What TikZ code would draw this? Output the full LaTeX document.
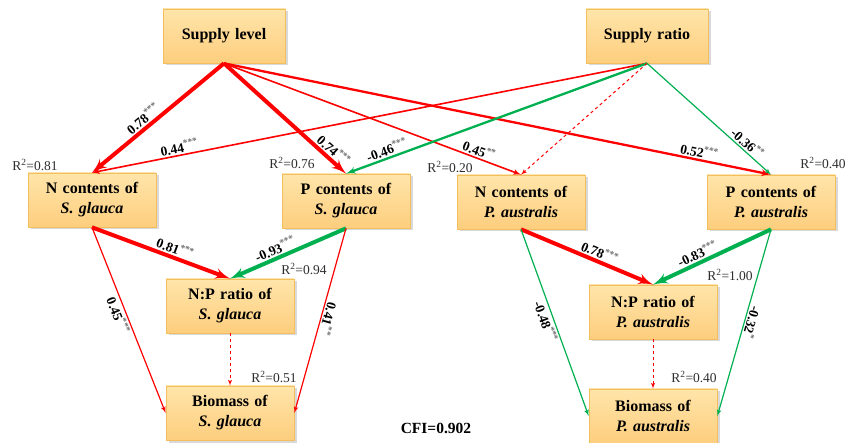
\documentclass[tikz,border=0pt]{standalone}
\usepackage{fontspec}
\setmainfont{Liberation Serif}
\usepackage{xcolor}
\definecolor{boxtop}{HTML}{FFE5AA}
\definecolor{boxbot}{HTML}{FDCE7E}
\definecolor{boxline}{HTML}{F2BE5E}
\definecolor{effpos}{HTML}{FF0000}
\definecolor{effneg}{HTML}{00B050}
\definecolor{starcol}{HTML}{6E6E6E}
\definecolor{rtext}{HTML}{2E2E2E}
\usepackage{tikz}
\usetikzlibrary{shapes,arrows,arrows.meta}
\usetikzlibrary{shadows}
\usetikzlibrary{positioning}
\tikzstyle{block} = [rectangle, draw=boxline, line width=0.7pt, top color=boxtop,
    bottom color=boxbot, text width=122pt, align=center, minimum width=128pt,
    minimum height=54pt, inner sep=0pt, font=\fontsize{16}{20}\selectfont\bfseries,
    drop shadow={shadow xshift=2.5pt, shadow yshift=-2.5pt, opacity=.3}]
\tikzstyle{line} = [draw, -latex']
\tikzstyle{coef} = [font=\fontsize{13.5}{15}\selectfont\bfseries, sloped, inner sep=1.5pt]
\tikzstyle{rsq} = [font=\fontsize{13.5}{15}\selectfont, text=rtext, inner sep=0pt]
\newcommand{\cf}[2]{#1\textsuperscript{\textcolor{starcol}{#2}}}

\begin{document}
\begin{tikzpicture}[x=1pt, y=-1pt]
\useasboundingbox (0,0) rectangle (846,443);

% Define line styles
\tikzstyle{strong} = [line width=4pt]
\tikzstyle{mid} = [line width=2.3pt]
\tikzstyle{weak} = [line width=1.6pt]
\tikzstyle{faint} = [line width=1.2pt]
\tikzstyle{pe} = [draw=effpos]
\tikzstyle{ne} = [draw=effneg]

    % Place nodes
    \node [block, minimum width=116pt] (level) at (224,36) {Supply level};
    \node [block, minimum width=116pt] (ratio) at (647,36) {Supply ratio};
    \node [block] (nSG) at (92,200) {N contents of\\\textit{S. glauca}};
    \node [block] (pSG) at (346,201) {P contents of\\\textit{S. glauca}};
    \node [block] (nPA) at (521,202) {N contents of\\\textit{P. australis}};
    \node [block] (pPA) at (771,202) {P contents of\\\textit{P. australis}};
    \node [block] (npSG) at (230,306) {N:P ratio of\\\textit{S. glauca}};
    \node [block] (bioSG) at (230,413) {Biomass of\\\textit{S. glauca}};
    \node [block] (npPA) at (653,312) {N:P ratio of\\\textit{P. australis}};
    \node [block] (bioPA) at (653,416) {Biomass of\\\textit{P. australis}};

    % R2 values
    \node [rsq] (r1) at (35,165) {R\textsuperscript{2}=0.81};
    \node [rsq] (r2) at (292,163) {R\textsuperscript{2}=0.76};
    \node [rsq] (r3) at (450,167) {R\textsuperscript{2}=0.20};
    \node [rsq] (r4) at (823,163) {R\textsuperscript{2}=0.40};
    \node [rsq] (r5) at (304,269) {R\textsuperscript{2}=0.94};
    \node [rsq] (r6) at (274,377) {R\textsuperscript{2}=0.51};
    \node [rsq] (r7) at (730,275) {R\textsuperscript{2}=1.00};
    \node [rsq] (r8) at (694,377) {R\textsuperscript{2}=0.40};
    \node [font=\fontsize{15.5}{18}\selectfont\bfseries] (cfi) at (436,428) {CFI=0.902};

    % Supply level
    \path [line,strong,pe] (level.south) -- node[coef, above, pos=.57] {\cf{0.78}{***}} (nSG.north);
    \path [line,strong,pe] (level.south) -- node[coef, above, pos=.85] {\cf{0.74}{***}} (pSG.north);
    \path [line,weak,pe] (level.south) -- node[coef, above, pos=.85] {\cf{0.45}{**}} (nPA.north);
    \path [line,mid,pe] (level.south) -- node[coef, above, pos=.866] {\cf{0.52}{***}} (pPA.north);

    % Supply ratio
    \path [line,weak,pe] (ratio.south) -- node[coef, above, pos=.84] {\cf{0.44}{***}} (nSG.north);
    \path [line,mid,ne] (ratio.south) -- node[coef, above, pos=.855] {\cf{-0.46}{***}} (pSG.north);
    \path [line,pe,dashed,line width=1pt] (ratio.south) -- (nPA.north);
    \path [line,faint,ne] (ratio.south) -- node[coef, above, pos=.77] {\cf{-0.36}{**}} (pPA.north);

    % S. glauca
    \path [line,strong,pe] (nSG.south) -- node[coef, above, pos=.58] {\cf{0.81}{***}} (npSG.north);
    \path [line,strong,ne] (pSG.south) -- node[coef, above, pos=.58] {\cf{-0.93}{***}} (npSG.north);
    \path [line,faint,pe] (nSG.south) -- node[coef, below, pos=.46] {\cf{0.45}{***}} (bioSG.west);
    \path [line,faint,pe] (pSG.south) -- node[coef, allow upside down, above, pos=.48] {\cf{0.41}{**}} (bioSG.east);
    \path [line,pe,dashed,line width=1pt] (npSG) -- (bioSG);

    % P. australis
    \path [line,strong,pe] (nPA.south) -- node[coef, above, pos=.57] {\cf{0.78}{***}} (npPA.north);
    \path [line,strong,ne] (pPA.south) -- node[coef, above, pos=.59] {\cf{-0.83}{***}} (npPA.north);
    \path [line,faint,ne] (nPA.south) -- node[coef, below, pos=.48] {\cf{-0.48}{***}} (bioPA.west);
    \path [line,faint,ne] (pPA.south) -- node[coef, allow upside down, above, pos=.49] {\cf{-0.32}{*}} (bioPA.east);
    \path [line,pe,dashed,line width=1pt] (npPA) -- (bioPA);
\end{tikzpicture}
\end{document}
